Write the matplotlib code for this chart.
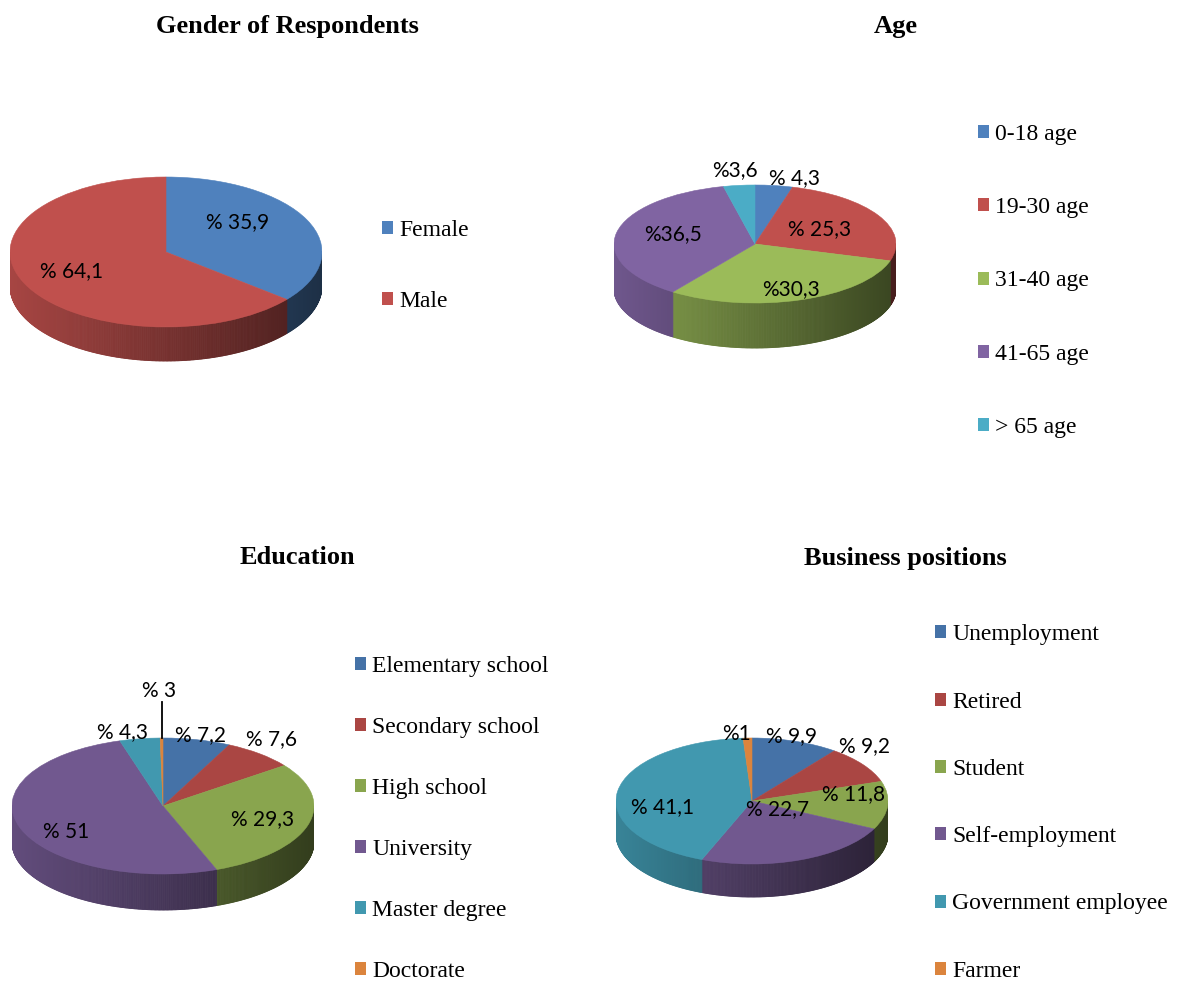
import numpy as np
import matplotlib.pyplot as plt
from matplotlib.patches import Wedge, Patch
from matplotlib.collections import PolyCollection
from matplotlib.colors import to_rgb

W, H = 1181, 981

# ---- data ----
gender_labels = ['Female', 'Male']
gender_values = [35.9, 64.1]
gender_text = ['% 35,9', '% 64,1']

age_labels = ['0-18 age', '19-30 age', '31-40 age', '41-65 age', '> 65 age']
age_values = [4.3, 25.3, 30.3, 36.5, 3.6]
age_text = ['% 4,3', '% 25,3', '%30,3', '%36,5', '%3,6']

edu_labels = ['Elementary school', 'Secondary school', 'High school',
              'University', 'Master degree', 'Doctorate']
edu_values = [7.2, 7.6, 29.3, 51, 4.3, 0.3]
edu_text = ['% 7,2', '% 7,6', '% 29,3', '% 51', '% 4,3', '% 3']

job_labels = ['Unemployment', 'Retired', 'Student', 'Self-employment',
              'Government employee', 'Farmer']
job_values = [9.9, 9.2, 11.8, 22.7, 41.1, 1]
job_text = ['% 9,9', '% 9,2', '% 11,8', '% 22,7', '% 41,1', '%1']

# ---- styles ----
light = ['#4F81BD', '#C0504D', '#9BBB59', '#8064A2', '#4BACC6']
dark = ['#4572A7', '#AA4643', '#89A54E', '#71588F', '#4198AF', '#DB843D']

SERIF = 'Liberation Serif'
SANS = 'Lato'

fig = plt.figure(figsize=(W / 100, H / 100), dpi=100)


def pie3d(cx, cy, rx, ry, depth, values, colors, texts, lab_r, nudge, leader=None):
    ax = fig.add_axes([(cx - rx) / W, 1 - (cy + 3 * ry) / H, 2 * rx / W, 6 * ry / H])
    ax.set_xlim(-1, 1)
    ax.set_ylim(-3, 3)
    ax.axis('off')
    d = depth / ry
    frac = np.array(values, dtype=float) / np.sum(values)
    cum = np.concatenate([[0], np.cumsum(frac)])
    handles = []
    # side walls (front half only), darker to the right
    polys, cols = [], []
    for i in range(len(frac)):
        t1 = 90 - cum[i + 1] * 360
        t2 = 90 - cum[i] * 360
        ts = np.radians(np.linspace(t1, t2, max(int((t2 - t1) * 2), 2)))
        base = np.array(to_rgb(colors[i]))
        for a, b in zip(ts[:-1], ts[1:]):
            if np.sin(a) > 0.001 and np.sin(b) > 0.001:
                continue
            polys.append([(np.cos(a), np.sin(a)), (np.cos(b), np.sin(b)),
                          (np.cos(b), np.sin(b) - d), (np.cos(a), np.sin(a) - d)])
            f = 0.62 - 0.25 * np.cos((a + b) / 2)
            cols.append(tuple(base * f))
    ax.add_collection(PolyCollection(polys, facecolors=cols, edgecolors=cols, linewidths=0.6))
    # top face
    for i in range(len(frac)):
        t1 = 90 - cum[i + 1] * 360
        t2 = 90 - cum[i] * 360
        ax.add_patch(Wedge((0, 0), 1, t1, t2, facecolor=colors[i],
                           edgecolor=colors[i], linewidth=0.4))
        handles.append(Patch(facecolor=colors[i], edgecolor='none'))
        mid = np.radians((t1 + t2) / 2)
        r = lab_r[i]
        dx, dy = nudge[i]
        ax.annotate(texts[i], (r * np.cos(mid), r * np.sin(mid)), xytext=(dx, -dy),
                    textcoords='offset pixels', ha='center', va='center',
                    fontsize=15, family=SANS, color='black', annotation_clip=False)
        if leader is not None and i == leader:
            ax.plot([np.cos(mid), np.cos(mid)], [np.sin(mid), 1.53 * np.sin(mid)],
                    color='black', lw=1.3, clip_on=False)
    return ax, handles


def add_legend(ax, handles, labels, x, ymid, spacing):
    ax.legend(handles, labels, loc='center left', bbox_to_anchor=(x / W, 1 - ymid / H),
              bbox_transform=fig.transFigure, frameon=False, prop={'family': SERIF, 'size': 17},
              handlelength=0.47, handleheight=0.47, handletextpad=0.25, labelspacing=spacing,
              borderpad=0, borderaxespad=0)


ax1, h1 = pie3d(166, 252, 156, 75, 34, gender_values, light[:2], gender_text,
                [0.65, 0.65], [(-20, -9), (-3, -2)])
add_legend(ax1, h1, gender_labels, 382, 266, 2.13)

ax2, h2 = pie3d(755, 244, 141, 59, 45, age_values, light, age_text,
                [1.12, 0.65, 0.7, 0.65, 1.12],
                [(18, 0), (-16, 4), (4, 6), (8, -2), (-2, -8)])
add_legend(ax2, h2, age_labels, 978, 281, 2.21)

ax3, h3 = pie3d(163, 806, 151, 68, 36, edu_values, dark, edu_text,
                [1.1, 1.12, 0.65, 0.65, 1.1, 1.72],
                [(0, 2), (0, -8), (5, 1), (-4, 12), (-15, 0), (-1, 2)], leader=5)
add_legend(ax3, h3, edu_labels, 355, 819, 1.70)

ax4, h4 = pie3d(752, 801, 136, 63, 33, job_values, dark, job_text,
                [1.12, 1.12, 0.75, 0.1, 0.62, 1.12],
                [(-9, 2), (-12, -14), (0, -10), (21, 2), (-6, 12), (-11, 4)])
add_legend(ax4, h4, job_labels, 935, 803, 1.96)

title_kw = dict(ha='center', va='center', fontsize=19, fontweight='bold', family=SERIF)
fig.text(287 / W, 1 - 26 / H, 'Gender of Respondents', **title_kw)
fig.text(896 / W, 1 - 26 / H, 'Age', **title_kw)
fig.text(297 / W, 1 - 558 / H, 'Education', **title_kw)
fig.text(905 / W, 1 - 558 / H, 'Business positions', **title_kw)

fig.savefig('out.png', dpi=100, facecolor='white')
